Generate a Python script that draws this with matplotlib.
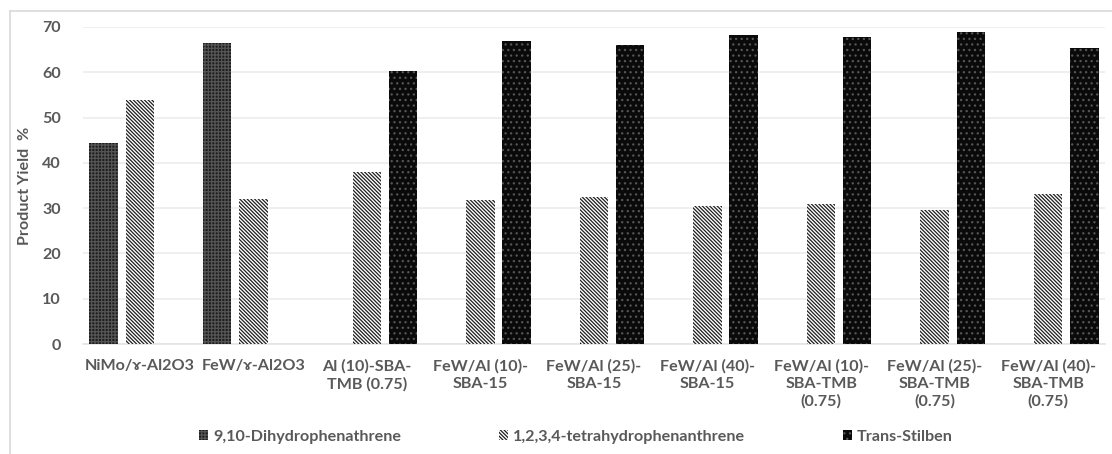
import numpy as np
import matplotlib.pyplot as plt
from matplotlib.lines import Line2D

# catalysts and product yields (%)
catalysts = ["NiMo/ɤ-Al2O3", "FeW/ɤ-Al2O3", "Al (10)-SBA-\nTMB (0.75)",
             "FeW/Al (10)-\nSBA-15", "FeW/Al (25)-\nSBA-15", "FeW/Al (40)-\nSBA-15",
             "FeW/Al (10)-\nSBA-TMB\n(0.75)", "FeW/Al (25)-\nSBA-TMB\n(0.75)",
             "FeW/Al (40)-\nSBA-TMB\n(0.75)"]
dihydro = [44.4, 66.4, 0, 0, 0, 0, 0, 0, 0]
tetrahydro = [53.9, 32.1, 38.0, 31.8, 32.5, 30.5, 30.9, 29.7, 33.1]
stilben = [0, 0, 60.2, 66.8, 66.0, 68.2, 67.7, 69.0, 65.4]
series_names = ["9,10-Dihydrophenathrene", "1,2,3,4-tetrahydrophenanthrene", "Trans-Stilben"]

txt = "#595959"
fs = 11.6
plt.rcParams['font.family'] = ['Lato', 'DejaVu Sans']
plt.rcParams['font.weight'] = 'bold'
plt.rcParams['hatch.linewidth'] = 0.9

fig = plt.figure(figsize=(11.12, 4.54), dpi=100)
ax = fig.add_axes([83/1112, 1-344/454, (1105-83)/1112, (344-27)/454])

x = np.arange(len(catalysts))
w = 0.25
step = 0.318
b1 = ax.bar(x - step, dihydro, w, facecolor="#1e1e1e", edgecolor="#555555",
            hatch="+++++", linewidth=0, zorder=3)
b2 = ax.bar(x, tetrahydro, w, facecolor="white", edgecolor="#1e1e1e",
            hatch="\\" * 9, linewidth=0, zorder=3)
b3 = ax.bar(x + step, stilben, w, facecolor="#0a0a0a", edgecolor="#555555",
            hatch="...", linewidth=0, zorder=3)

ax.set_xlim(-0.5, len(catalysts) - 0.5)
ax.set_ylim(0, 70)
ax.set_yticks(range(0, 71, 10))
ax.yaxis.grid(True, color="#ececec", linewidth=1.2, zorder=0)
for s in ["top", "right", "left"]:
    ax.spines[s].set_visible(False)
ax.spines["bottom"].set_color("#e4e4e4")
ax.spines["bottom"].set_linewidth(1.2)
ax.tick_params(length=0, colors=txt, labelsize=fs)
ax.tick_params(axis="y", pad=16)
ax.tick_params(axis="x", pad=11)
ax.set_xticks(x)
ax.set_xticklabels(catalysts, linespacing=1.3)
ax.set_ylabel("Product Yield  %", color=txt, fontsize=fs, fontweight="bold", labelpad=7)

fig.legend([b1, b2, b3], series_names, loc="center", bbox_to_anchor=(0.518, 1-437/454),
           ncol=3, frameon=False, fontsize=fs, labelcolor=txt,
           handlelength=0.55, handleheight=0.55, handletextpad=0.3, columnspacing=6.1)

# light frame around the chart area
fig.add_artist(Line2D([10/1112, 10/1112], [0, 1-11/454], transform=fig.transFigure,
                      color="#d9d9d9", linewidth=1.2))
fig.add_artist(Line2D([10/1112, 1], [1-11/454, 1-11/454], transform=fig.transFigure,
                      color="#d9d9d9", linewidth=1.2))

fig.savefig("out.png", dpi=100)
